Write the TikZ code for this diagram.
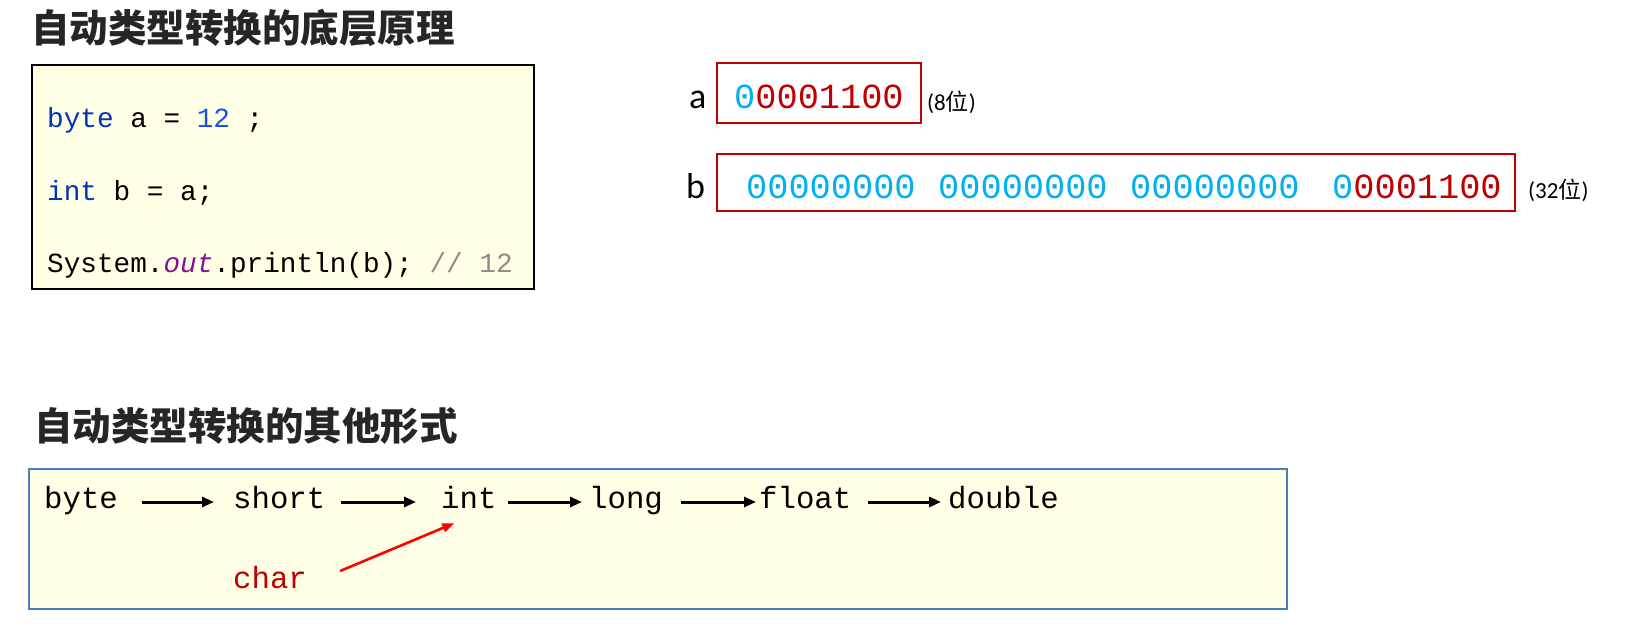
\documentclass[tikz,border=0pt]{standalone}
\usepackage{fontspec}
\setmainfont{Carlito}
\setmonofont{Liberation Mono}
\newfontfamily\cjk{Noto Sans CJK SC}
\usetikzlibrary{arrows.meta}
\definecolor{kw}{HTML}{0033B3}
\definecolor{num}{HTML}{1750EB}
\definecolor{fld}{HTML}{871094}
\definecolor{cmt}{HTML}{8C8C8C}
\definecolor{bitblue}{HTML}{00B0F0}
\definecolor{bitred}{HTML}{C00000}
\definecolor{boxfill}{HTML}{FFFFE5}
\definecolor{boxblue}{HTML}{4A7EBB}
\definecolor{titlegray}{HTML}{262626}
\begin{document}
\begin{tikzpicture}[x=1pt,y=-1pt,
  txt/.style={inner sep=0pt, anchor=base west},
  title/.style={txt, font=\cjk\bfseries\fontsize{38.5}{44}\selectfont, text=titlegray},
  code/.style={txt, font=\ttfamily\fontsize{27.7}{32}\selectfont},
  bits/.style={txt, font=\ttfamily\fontsize{35.3}{40}\selectfont},
  lbl/.style={txt, font=\fontsize{36}{40}\selectfont},
  note/.style={txt, font=\fontsize{23}{26}\selectfont},
  chain/.style={inner sep=0pt, anchor=base west, font=\ttfamily\fontsize{30.7}{36}\selectfont, text height=20pt, text depth=8pt},
  arr/.style={-{Triangle[length=12pt,width=10pt]}, line width=3pt},
  redarr/.style={-{Triangle[length=12pt,width=9pt]}, line width=2.6pt, color=red},
  panel/.style={anchor=north west, inner sep=0pt},
]
\useasboundingbox (0,0) rectangle (1630,635);
% ---- top-left: title and code
\node[title] (t1) at (31,42.5) {自动类型转换的底层原理};
\node[panel, draw=black, line width=2pt, fill=boxfill, minimum width=502pt, minimum height=224pt] (codebox) at (31,64) {};
\node[code] (c1) at (47,127) {\textcolor{kw}{byte} a = \textcolor{num}{12} ;};
\node[code] (c2) at (47,200) {\textcolor{kw}{int} b = a;};
\node[code] (c3) at (47,272) {System.\textcolor{fld}{\itshape out}.println(b); \textcolor{cmt}{// 12}};
% ---- top-right: bits
\node[lbl] (la) at (689,108) {a};
\node[lbl] (lb) at (686,198) {b};
\node[panel, draw=bitred, line width=1.6pt, minimum width=204pt, minimum height=60pt] (boxa) at (716,62) {};
\node[panel, draw=bitred, line width=1.6pt, minimum width=798pt, minimum height=57pt] (boxb) at (716,153) {};
\node[bits] (ba) at (734,108) {\textcolor{bitblue}{0}\textcolor{bitred}{0001100}};
\node[bits, text=bitblue] (bb1) at (746,198) {00000000};
\node[bits, text=bitblue] (bb2) at (938,198) {00000000};
\node[bits, text=bitblue] (bb3) at (1130,198) {00000000};
\node[bits] (bb4) at (1332,198) {\textcolor{bitblue}{0}\textcolor{bitred}{0001100}};
\node[note] (na) at (927,110) {(8{\cjk 位})};
\node[note] (nb) at (1528,198) {(32{\cjk 位})};
% ---- bottom: other forms
\node[title] (t2) at (34,440) {自动类型转换的其他形式};
\node[panel, draw=boxblue, line width=2pt, fill=boxfill, minimum width=1258pt, minimum height=140pt] (chainbox) at (28,468) {};
\node[chain] (byte) at (44,508) {byte};
\node[chain] (short) at (233,508) {short};
\node[chain] (int) at (441,508) {int};
\node[chain] (long) at (589,508) {long};
\node[chain] (float) at (759,508) {float};
\node[chain] (double) at (948,508) {double};
\node[chain, text=bitred] (char) at (233,588) {char};
\draw[arr] ([xshift=24pt]byte.east) -- ([xshift=-19pt]short.west);
\draw[arr] ([xshift=15pt]short.east) -- ([xshift=-25pt]int.west);
\draw[arr] ([xshift=11pt]int.east) -- ([xshift=-7pt]long.west);
\draw[arr] ([xshift=18pt]long.east) -- ([xshift=-3pt]float.west);
\draw[arr] ([xshift=16pt]float.east) -- ([xshift=-7pt]double.west);
\draw[redarr] ([shift={(33,-11)}]char.east) -- ([shift={(-14.6,7)}]int.south);
\end{tikzpicture}
\end{document}
